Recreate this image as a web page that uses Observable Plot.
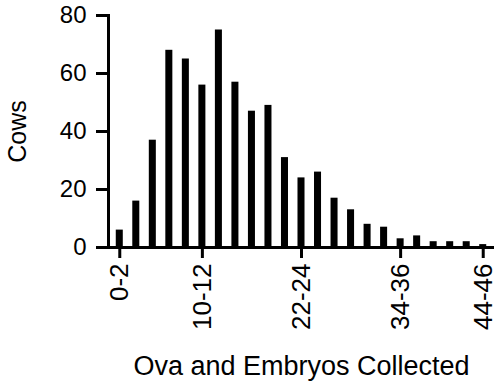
<!DOCTYPE html>
<html><head><meta charset="utf-8">
<script src="https://cdn.jsdelivr.net/npm/d3@7"></script>
<script src="https://cdn.jsdelivr.net/npm/@observablehq/plot@0.6"></script>
<style>
body{margin:0;background:#fff}
#chart svg g[aria-label="y-axis tick"], #chart svg g[aria-label="x-axis tick"], #chart svg g[aria-label="rule"], #chart svg g[aria-label="frame"] {stroke-width:3px}
</style>
</head><body><div id="chart"></div>
<script>
const categories = ["0-2","2-4","4-6","6-8","8-10","10-12","12-14","14-16","16-18","18-20","20-22","22-24","24-26","26-28","28-30","30-32","32-34","34-36","36-38","38-40","40-42","42-44","44-46"];
const cows = [6,16,37,68,65,56,75,57,47,49,31,24,26,17,13,8,7,3,4,2,2,2,1];
const xTicks = ["0-2","10-12","22-24","34-36","44-46"];
const yTicks = [0,20,40,60,80];
const data = categories.map((c, i) => ({range: c, cows: cows[i]}));
const font = "'Liberation Sans', Arial, Helvetica, sans-serif";
const chart = Plot.plot({
  width: 500, height: 387,
  marginLeft: 108, marginRight: 6, marginTop: 15, marginBottom: 140,
  style: {fontFamily: font, background: "white", color: "black"},
  x: {domain: categories, paddingInner: 0.575, paddingOuter: 0.47, round: false},
  y: {domain: [0, 80]},
  marks: [
    Plot.barY(data, {x: "range", y: "cows", fill: "black"}),
    Plot.axisY({ticks: yTicks, tickSize: 12, tickPadding: 10, fontSize: 24, strokeWidth: 3, label: null}),
    Plot.axisX({ticks: xTicks, tickSize: 11, tickRotate: -90, tickPadding: 5, fontSize: 26, strokeWidth: 3, label: null}),
    Plot.ruleY([0], {strokeWidth: 3}),
    Plot.frame({anchor: "left", strokeWidth: 3}),
    Plot.text(["Cows"], {frameAnchor: "left", dx: -91, rotate: -90, fontSize: 25, textAnchor: "middle", lineAnchor: "middle"}),
    Plot.text(["Ova and Embryos Collected"], {frameAnchor: "bottom", dy: 119, fontSize: 27, lineAnchor: "middle"})
  ]
});
document.getElementById("chart").append(chart);
</script>
</body></html>
